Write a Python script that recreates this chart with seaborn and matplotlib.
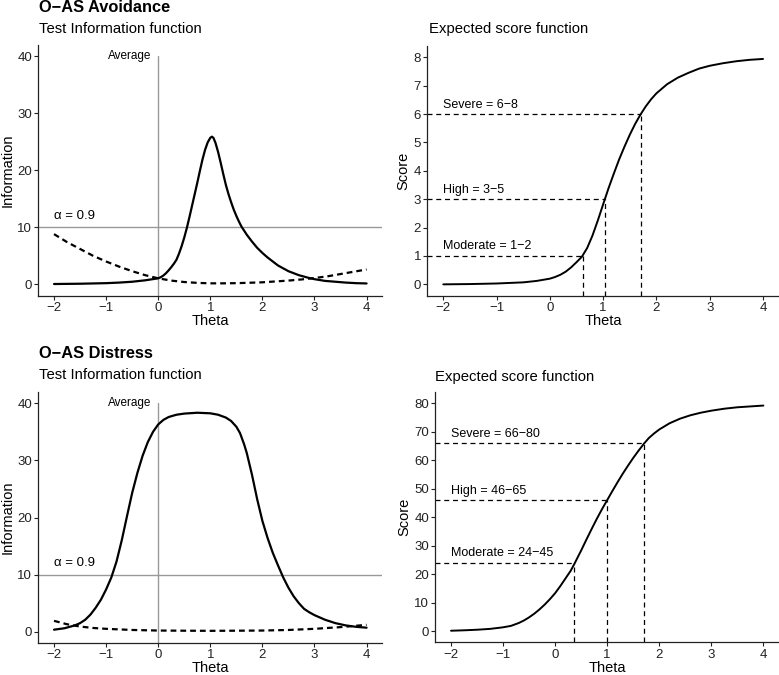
import numpy as np
import pandas as pd
import matplotlib
matplotlib.use("Agg")
import matplotlib.pyplot as plt
import seaborn as sns

# O-AS Avoidance: test information (solid) and standard error (dashed)
avo_info_theta = [-2.0, -1.5, -1.0, -0.75, -0.5, -0.25, 0.0, 0.05, 0.1, 0.15, 0.2, 0.25, 0.3, 0.35,
                  0.4, 0.45, 0.5, 0.55, 0.6, 0.65, 0.7, 0.75, 0.8, 0.85, 0.9, 0.95, 1.0, 1.03,
                  1.06, 1.1, 1.15, 1.2, 1.25, 1.3, 1.35, 1.4, 1.45, 1.5, 1.55, 1.6, 1.7, 1.8,
                  1.9, 2.0, 2.1, 2.2, 2.3, 2.4, 2.5, 2.6, 2.7, 2.8, 2.9, 3.0, 3.2, 3.4, 3.6,
                  3.8, 4.0]
avo_info = [0.05, 0.1, 0.2, 0.3, 0.45, 0.7, 1.05, 1.25, 1.55, 1.95, 2.45, 3.0, 3.6, 4.3,
            5.4, 6.7, 8.2, 9.9, 11.8, 13.8, 15.8, 17.8, 19.9, 21.9, 23.6, 24.9, 25.7, 25.9,
            25.7, 24.8, 23.2, 21.3, 19.3, 17.4, 15.8, 14.4, 13.1, 12.0, 11.0, 10.1, 8.7, 7.5,
            6.4, 5.5, 4.7, 4.0, 3.3, 2.8, 2.3, 1.95, 1.6, 1.35, 1.1, 0.9, 0.6, 0.45, 0.3,
            0.2, 0.15]
avo_se_theta = [-2.0, -1.75, -1.5, -1.25, -1.0, -0.75, -0.5, -0.25, 0.0, 0.25, 0.5, 0.75, 1.0,
                1.25, 1.5, 1.75, 2.0, 2.25, 2.5, 2.75, 3.0, 3.25, 3.5, 3.75, 4.0]
avo_se = [8.8, 7.4, 6.2, 5.0, 4.0, 3.1, 2.3, 1.6, 1.05, 0.65, 0.4, 0.25, 0.17,
          0.17, 0.2, 0.27, 0.35, 0.5, 0.65, 0.85, 1.1, 1.4, 1.8, 2.2, 2.6]

# O-AS Avoidance: expected score
avo_esf_theta = [-2.0, -1.5, -1.0, -0.5, -0.25, 0.0, 0.1, 0.2, 0.3, 0.4, 0.5, 0.6, 0.7, 0.8, 0.9,
                 1.0, 1.1, 1.2, 1.3, 1.4, 1.5, 1.6, 1.7, 1.8, 1.9, 2.0, 2.2, 2.4, 2.6, 2.8,
                 3.0, 3.25, 3.5, 3.75, 4.0]
avo_esf = [0.0, 0.01, 0.03, 0.07, 0.12, 0.2, 0.26, 0.34, 0.45, 0.6, 0.78, 0.97, 1.28, 1.72, 2.25,
           2.82, 3.38, 3.9, 4.4, 4.85, 5.27, 5.65, 5.98, 6.27, 6.52, 6.73, 7.05, 7.28, 7.45, 7.6,
           7.7, 7.79, 7.86, 7.91, 7.94]
avo_cut_theta = [0.62, 1.03, 1.71]
avo_cut_score = [1, 3, 6]
avo_cut_labels = ["Moderate = 1\u22122", "High = 3\u22125", "Severe = 6\u22128"]

# O-AS Distress: test information (solid) and standard error (dashed)
dis_info_theta = [-2.0, -1.8, -1.6, -1.5, -1.4, -1.3, -1.2, -1.1, -1.0, -0.9, -0.8, -0.7, -0.6,
                  -0.5, -0.4, -0.3, -0.2, -0.1, 0.0, 0.1, 0.2, 0.35, 0.5, 0.75, 1.0, 1.15, 1.3,
                  1.4, 1.5, 1.57, 1.65, 1.7, 1.8, 1.9, 2.0, 2.1, 2.2, 2.3, 2.4, 2.5, 2.6, 2.7,
                  2.8, 2.9, 3.0, 3.2, 3.4, 3.6, 3.8, 4.0]
dis_info = [0.35, 0.6, 1.1, 1.5, 2.1, 3.0, 4.2, 5.6, 7.4, 9.5, 12.3, 16.0, 20.2,
            24.3, 27.8, 30.8, 33.2, 35.0, 36.3, 37.1, 37.6, 38.0, 38.2, 38.35, 38.25, 38.0, 37.5,
            36.9, 35.9, 34.8, 32.8, 31.3, 27.5, 23.2, 19.4, 16.4, 13.8, 11.6, 9.5, 7.7, 6.2, 5.0,
            4.0, 3.4, 2.9, 2.1, 1.5, 1.1, 0.85, 0.7]
dis_se_theta = [-2.0, -1.75, -1.5, -1.25, -1.0, -0.5, 0.0, 0.5, 1.0, 1.5, 2.0, 2.5, 3.0, 3.5, 4.0]
dis_se = [1.9, 1.3, 0.9, 0.65, 0.5, 0.3, 0.2, 0.17, 0.15, 0.17, 0.2, 0.3, 0.5, 0.8, 1.2]

# O-AS Distress: expected score
dis_esf_theta = [-2.0, -1.75, -1.5, -1.25, -1.0, -0.85, -0.7, -0.6, -0.5, -0.4, -0.3, -0.2, -0.1,
                 0.0, 0.1, 0.2, 0.3, 0.37, 0.5, 0.6, 0.7, 0.8, 0.9, 1.0, 1.1, 1.2, 1.3, 1.4,
                 1.5, 1.6, 1.71, 1.8, 1.9, 2.0, 2.2, 2.4, 2.6, 2.8, 3.0, 3.25, 3.5, 3.75, 4.0]
dis_esf = [0.1, 0.25, 0.45, 0.75, 1.3, 1.8, 2.8, 3.7, 4.8, 6.1, 7.6, 9.3, 11.2,
           13.3, 15.8, 18.5, 21.2, 23.6, 28.3, 32.1, 35.8, 39.4, 42.8, 46.0, 49.2, 52.3, 55.3, 58.1,
           60.8, 63.3, 65.9, 67.8, 69.4, 70.8, 73.0, 74.6, 75.8, 76.7, 77.4, 78.1, 78.6, 78.9, 79.2]
dis_cut_theta = [0.37, 1.0, 1.71]
dis_cut_score = [24, 46, 66]
dis_cut_labels = ["Moderate = 24\u221245", "High = 46\u221265", "Severe = 66\u221280"]

x_ticks = [-2, -1, 0, 1, 2, 3, 4]

sns.set_theme(style="ticks")
plt.rcParams["font.family"] = ["Liberation Sans", "DejaVu Sans"]
plt.rcParams["text.color"] = "black"

W, H = 779, 675
fig = plt.figure(figsize=(W / 100, H / 100), dpi=100)


def px_axes(l, t, r, b):
    return fig.add_axes([l / W, 1 - b / H, (r - l) / W, (b - t) / H])


def style_axes(ax, ylabel, yticks):
    ax.set_xlim(-2.3, 4.3)
    ax.set_xticks(x_ticks)
    ax.set_yticks(yticks)
    ax.set_xlabel("Theta", fontsize=10.5, labelpad=0, color="black")
    ax.set_ylabel(ylabel, fontsize=10.5, labelpad=2, color="black")
    ax.tick_params(labelsize=9.5, length=3, width=0.8, colors="#222222", pad=1.5)
    for s in ["left", "bottom"]:
        ax.spines[s].set_color("#222222")
        ax.spines[s].set_linewidth(0.9)
    sns.despine(ax=ax)


def info_panel(ax, theta, info, se_theta, se):
    ax.set_ylim(-2, 42)
    ax.axhline(10, color="#999999", lw=1)
    ax.plot([0, 0], [-2, 40], color="#999999", lw=1)
    sns.lineplot(x=theta, y=info, ax=ax, color="black", lw=1.6)
    sns.lineplot(x=se_theta, y=se, ax=ax, color="black", lw=1.6, linestyle=(0, (2.6, 1.8)))
    ax.annotate("Average", (0, 40), xytext=(-5, 0), textcoords="offset points",
                ha="right", va="center", fontsize=8.5)
    ax.text(-2, 12, "\u03b1 = 0.9", ha="left", va="center", fontsize=9.5)
    style_axes(ax, "Information", [0, 10, 20, 30, 40])


def esf_panel(ax, theta, score, cut_theta, cut_score, labels, ylim, yticks):
    ax.set_xlim(-2.3, 4.3)
    ax.set_ylim(*ylim)
    sns.lineplot(x=theta, y=score, ax=ax, color="black", lw=1.4)
    for ct, cs, lab in zip(cut_theta, cut_score, labels):
        ax.plot([-2.3, ct], [cs, cs], color="black", lw=0.9, linestyle=(0, (4, 3)))
        ax.plot([ct, ct], [ylim[0], cs], color="black", lw=0.9, linestyle=(0, (4, 3)))
        ax.annotate(lab, (-2, cs), xytext=(0, 2.5), textcoords="offset points",
                    ha="left", va="bottom", fontsize=9)
    style_axes(ax, "Score", yticks)


ax_tl = px_axes(38.4, 44.9, 382.2, 295.7)
ax_tr = px_axes(427.3, 45.9, 779, 295.7)
ax_bl = px_axes(38.4, 391.9, 382.2, 643.1)
ax_br = px_axes(435.4, 391.9, 779, 642.4)

info_panel(ax_tl, avo_info_theta, avo_info, avo_se_theta, avo_se)
esf_panel(ax_tr, avo_esf_theta, avo_esf, avo_cut_theta, avo_cut_score, avo_cut_labels,
          (-0.4, 8.4), list(range(0, 9)))
info_panel(ax_bl, dis_info_theta, dis_info, dis_se_theta, dis_se)
esf_panel(ax_br, dis_esf_theta, dis_esf, dis_cut_theta, dis_cut_score, dis_cut_labels,
          (-4, 84), list(range(0, 81, 10)))

# group and panel titles
fig.text(39 / W, 1 - 7.5 / H, "O\u2212AS Avoidance", fontsize=11.8, fontweight="bold", va="center")
fig.text(39 / W, 1 - 29 / H, "Test Information function", fontsize=10.7, va="center")
fig.text(429 / W, 1 - 29 / H, "Expected score function", fontsize=10.7, va="center")
fig.text(39 / W, 1 - 353 / H, "O\u2212AS Distress", fontsize=11.8, fontweight="bold", va="center")
fig.text(39 / W, 1 - 375 / H, "Test Information function", fontsize=10.7, va="center")
fig.text(435 / W, 1 - 377 / H, "Expected score function", fontsize=10.7, va="center")

fig.savefig("out.png", dpi=100)
